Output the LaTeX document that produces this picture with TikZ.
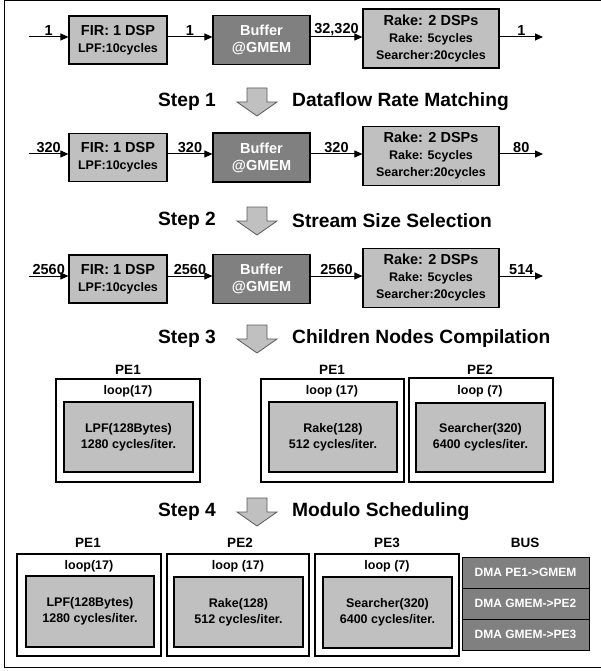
\documentclass[tikz,border=0pt]{standalone}
\usepackage{fontspec}
\setmainfont{Liberation Sans}
\usetikzlibrary{arrows.meta}

\definecolor{boxgray}{HTML}{C0C0C0}
\definecolor{bufgray}{HTML}{808080}
\definecolor{edgegray}{HTML}{5A5A5A}

\newcommand{\fbig}{\fontsize{14.5}{17}\selectfont}
\newcommand{\fmid}{\fontsize{12.5}{16}\selectfont}
\newcommand{\fstep}{\fontsize{19.2}{21}\selectfont}

\tikzset{
  proc/.style={draw=black, line width=1.2pt, fill=boxgray, align=center, font=\bfseries\fbig, inner sep=0pt},
  firbox/.style={proc, minimum width=98pt, minimum height=48pt},
  bufbox/.style={proc, fill=bufgray, text=white, minimum width=97pt, minimum height=49pt},
  rakebox/.style={proc, minimum width=136pt, minimum height=59pt},
  flow/.style={-{Triangle[length=8pt,width=7pt]}, line width=1pt},
  rate/.style={font=\bfseries\fbig, inner sep=1pt, above},
  steptxt/.style={font=\bfseries\fstep, inner sep=0pt},
  steparr/.style={draw=edgegray, fill=boxgray, line width=0.8pt},
  pebox/.style={draw=black, line width=1.1pt, fill=white, minimum width=144pt, minimum height=102pt},
  task/.style={draw=black, line width=1.2pt, fill=boxgray, align=center, font=\bfseries\fmid, inner sep=0pt, minimum width=129pt, minimum height=70pt},
  pelabel/.style={font=\bfseries\fontsize{13.5}{16}\selectfont, inner sep=0pt},
  looplabel/.style={font=\bfseries\fmid, inner sep=0pt},
  dma/.style={draw=black, line width=1pt, fill=bufgray, text=white, font=\bfseries\fontsize{12}{14}\selectfont, minimum width=127pt, minimum height=31pt, inner sep=0pt}
}

\begin{document}
\begin{tikzpicture}[x=1pt,y=-1pt]
\useasboundingbox (0,0) rectangle (600,671);
\draw[line width=1pt] (4,1) rectangle (604,667);

% row 1
\node[firbox] (fir1) at (118,40) {FIR: 1 DSP\\{\fmid LPF:10cycles}};
\node[bufbox] (buf1) at (261.5,40) {Buffer\\@GMEM};
\node[rakebox] (rake1) at (431,38.5) {Rake: 2 DSPs\\{\fmid Rake: 5cycles}\\{\fmid Searcher:20cycles}};
\coordinate (in1) at (29,37);
\coordinate (out1) at (543,37);
\draw[flow] (in1) -- (in1 -| fir1.west) node[rate,midway] {1};
\draw[flow] (fir1.east |- in1) -- (buf1.west |- in1) node[rate,midway] {1};
\draw[flow] (buf1.east |- in1) -- (rake1.west |- in1) node[rate,midway] {32,320};
\draw[flow] (rake1.east |- in1) -- (out1) node[rate,midway] {1};

% step 1
\node[steptxt, anchor=east] (st1) at (216,102) {Step 1};
\node[steptxt, anchor=west] (sd1) at (292,102) {Dataflow Rate Matching};

% row 2
\node[firbox] (fir2) at (118,157.5) {FIR: 1 DSP\\{\fmid LPF:10cycles}};
\node[bufbox] (buf2) at (261.5,157.5) {Buffer\\@GMEM};
\node[rakebox] (rake2) at (431,156) {Rake: 2 DSPs\\{\fmid Rake: 5cycles}\\{\fmid Searcher:20cycles}};
\coordinate (in2) at (29,154);
\coordinate (out2) at (543,154);
\draw[flow] (in2) -- (in2 -| fir2.west) node[rate,midway] {320};
\draw[flow] (fir2.east |- in2) -- (buf2.west |- in2) node[rate,midway] {320};
\draw[flow] (buf2.east |- in2) -- (rake2.west |- in2) node[rate,midway] {320};
\draw[flow] (rake2.east |- in2) -- (out2) node[rate,midway] {80};

% step 2
\node[steptxt, anchor=east] (st2) at (216,221) {Step 2};
\node[steptxt, anchor=west] (sd2) at (292,221) {Stream Size Selection};

% row 3
\node[firbox] (fir3) at (118,279) {FIR: 1 DSP\\{\fmid LPF:10cycles}};
\node[bufbox] (buf3) at (261.5,279) {Buffer\\@GMEM};
\node[rakebox] (rake3) at (431,278) {Rake: 2 DSPs\\{\fmid Rake: 5cycles}\\{\fmid Searcher:20cycles}};
\coordinate (in3) at (29,276);
\coordinate (out3) at (543,276);
\draw[flow] (in3) -- (in3 -| fir3.west) node[rate,midway] {2560};
\draw[flow] (fir3.east |- in3) -- (buf3.west |- in3) node[rate,midway] {2560};
\draw[flow] (buf3.east |- in3) -- (rake3.west |- in3) node[rate,midway] {2560};
\draw[flow] (rake3.east |- in3) -- (out3) node[rate,midway] {514};

% step 3
\node[steptxt, anchor=east] (st3) at (216,339) {Step 3};
\node[steptxt, anchor=west] (sd3) at (292,339) {Children Nodes Compilation};

\node[pebox, minimum height=103pt] (c1o) at (128,430.5) {};
\node[task] (c1i) at (128.5,437) {LPF(128Bytes)\\1280 cycles/iter.};
\node[pelabel] (c1p) at (128,370) {PE1};
\node[looplabel] (c1l) at (128,391) {loop(17)};

\node[pebox, minimum width=143pt, minimum height=103pt] (c2o) at (332.5,430.5) {};
\node[task, minimum width=128pt] (c2i) at (333,437) {Rake(128)\\512 cycles/iter.};
\node[pelabel] (c2p) at (332,370) {PE1};
\node[looplabel] (c2l) at (332,391) {loop (17)};

\node[pebox, minimum height=104pt] (c3o) at (481,430) {};
\node[task, minimum height=69pt] (c3i) at (480.5,437.5) {Searcher(320)\\6400 cycles/iter.};
\node[pelabel] (c3p) at (480,370) {PE2};
\node[looplabel] (c3l) at (480,391) {loop (7)};

% step 4
\node[steptxt, anchor=east] (st4) at (216,512) {Step 4};
\node[steptxt, anchor=west] (sd4) at (292,512) {Modulo Scheduling};

\node[pebox] (m1o) at (89,605) {};
\node[task, minimum width=128pt, minimum height=71pt] (m1i) at (90,611.5) {LPF(128Bytes)\\1280 cycles/iter.};
\node[pelabel] (m1p) at (88,543) {PE1};
\node[looplabel] (m1l) at (89,566) {loop(17)};

\node[pebox, minimum width=142pt] (m2o) at (238,605) {};
\node[task] (m2i) at (238.5,612) {Rake(128)\\512 cycles/iter.};
\node[pelabel] (m2p) at (240,543) {PE2};
\node[looplabel] (m2l) at (238,566) {loop (17)};

\node[pebox] (m3o) at (387,605) {};
\node[task, minimum height=71pt] (m3i) at (387.5,612.5) {Searcher(320)\\6400 cycles/iter.};
\node[pelabel] (m3p) at (387,543) {PE3};
\node[looplabel] (m3l) at (387,566) {loop (7)};

\node[pelabel] (busp) at (525,543) {BUS};
\node[dma] (dma1) at (525.5,572.5) {DMA PE1->GMEM};
\node[dma] (dma2) at (525.5,603.5) {DMA GMEM->PE2};
\node[dma] (dma3) at (525.5,634.5) {DMA GMEM->PE3};

% step arrows
\foreach \sy in {102,221,339,512}
  \draw[steparr] (257,\sy) ++(-10,-14) -- ++(20,0) -- ++(0,14) -- ++(10,0) -- ++(-20,14) -- ++(-20,-14) -- ++(10,0) -- cycle;
\end{tikzpicture}
\end{document}
